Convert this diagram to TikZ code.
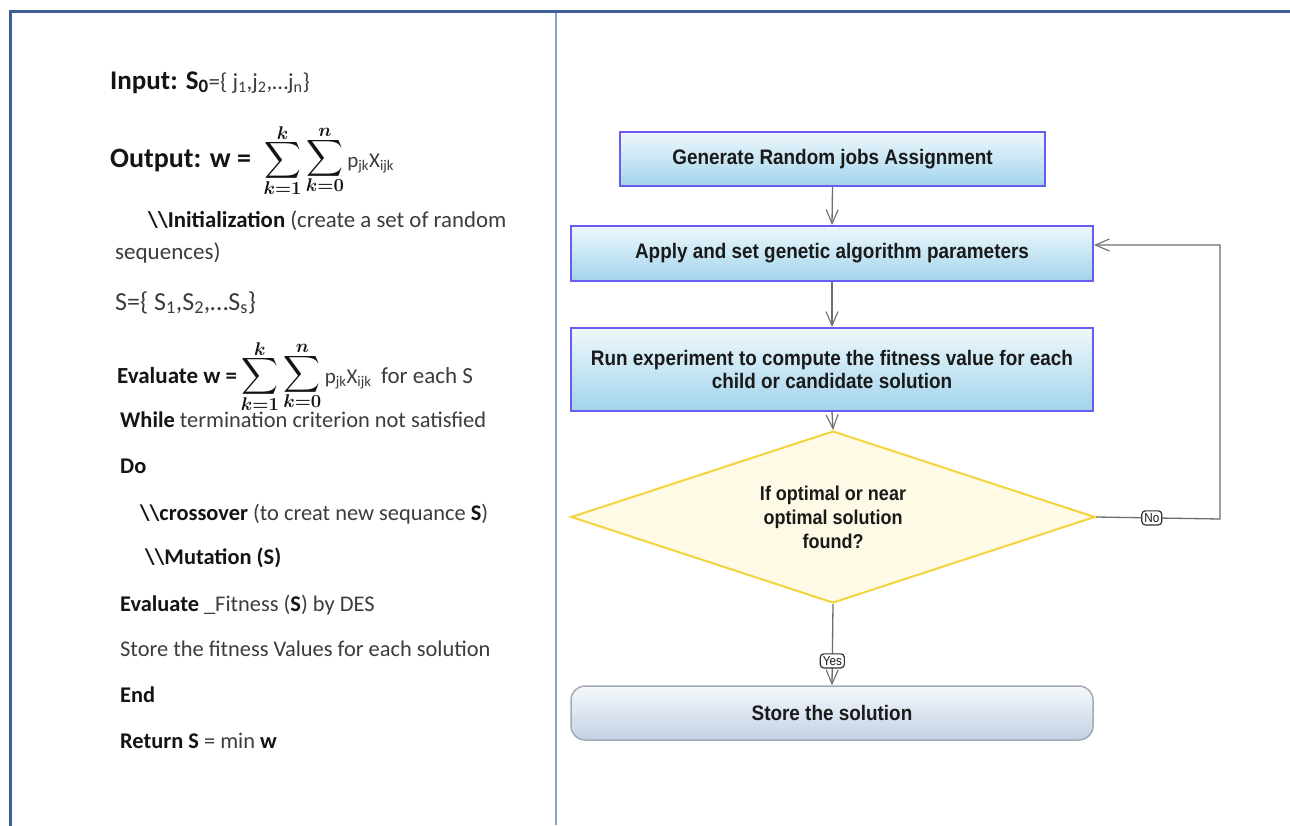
\documentclass[tikz,border=0pt]{standalone}
\usepackage{amsmath,amssymb,bm}
\usepackage{graphicx}
\usepackage{fontspec}
\setmainfont{Carlito}
\newfontfamily\flowfont[FakeStretch=0.9]{Liberation Sans}
\usetikzlibrary{shapes.geometric,arrows.meta}
\definecolor{framedark}{HTML}{3F5E96}
\definecolor{framelight}{HTML}{86A3D6}
\definecolor{txtgrey}{HTML}{3C3C3C}
\definecolor{txtbold}{HTML}{141414}
\definecolor{boxborder}{HTML}{6A5CF0}
\definecolor{boxtop}{HTML}{EEF8FC}
\definecolor{boxbot}{HTML}{A2D4EC}
\definecolor{diafill}{HTML}{FFFAE6}
\definecolor{diaborder}{HTML}{F3D43C}
\definecolor{endtop}{HTML}{F5F8FB}
\definecolor{endbot}{HTML}{C3D2E5}
\definecolor{endborder}{HTML}{A3ACB6}
\definecolor{arrgrey}{HTML}{6E6E6E}
\definecolor{flowtext}{HTML}{1A1A1A}
\newcommand{\sz}[1]{\fontsize{#1}{#1}\selectfont}
\newcommand{\onesum}[2]{\vcenter{\offinterlineskip\halign{\hfil##\hfil\cr$\scriptstyle\bm{#2}$\cr\noalign{\kern0.5pt}$\displaystyle\sum$\cr\noalign{\kern0.5pt}$\scriptstyle\bm{#1}$\cr}}}
\newcommand{\mysums}{\scalebox{1.28}{\color{txtbold}\sz{20}$\onesum{k=1}{k}\,\onesum{k=0}{n}$}}
\newcommand{\pxterm}{\sz{21}\,p\textsubscript{jk}X\textsubscript{ijk}}
\tikzset{
  pl/.style={anchor=base west, inner sep=0pt, text=txtgrey},
  procbox/.style={draw=boxborder, line width=2pt, top color=boxtop, bottom color=boxbot,
    font=\flowfont\bfseries\sz{21}, text=flowtext, align=center, inner sep=0pt},
  decbox/.style={diamond, aspect=3.05, draw=diaborder, line width=2pt, fill=diafill, inner sep=0pt,
    font=\flowfont\bfseries\sz{20}, text=flowtext, align=center},
  endbox/.style={draw=endborder, line width=1.5pt, rounded corners=14pt, top color=endtop,
    bottom color=endbot, font=\flowfont\bfseries\sz{21}, text=flowtext, inner sep=0pt},
  arr/.style={draw=arrgrey, line width=1.3pt, -{Straight Barb[length=14pt,width=12pt,line width=1.1pt]}},
  lbl/.style={draw=black!80, line width=1.2pt, fill=white, rounded corners=3.5pt, inner sep=2.5pt,
    font=\flowfont\sz{13}, text=flowtext}
}
\begin{document}
\begin{tikzpicture}[x=1pt,y=-1pt]
\useasboundingbox[fill=white] (0,0) rectangle (1290,825);
% frame
\draw[framelight, line width=1.5pt] (556,12) -- (556,825);
\draw[framedark, line width=3pt, line cap=rect] (10,825) -- (10,11) -- (1290,11);

% left text
\node[pl] (l1) at (110,89) {\sz{27}\textbf{\color{txtbold}Input: S\textsubscript{0}}\sz{23}=\{ j\textsubscript{1},j\textsubscript{2},…j\textsubscript{n}\}};
\node[pl] (l2) at (110,167) {\sz{28}\textbf{\color{txtbold}Output: w =}\ \ \mysums\pxterm};
\node[pl] (l3) at (148,227) {\sz{22.8}\textbf{\color{txtbold}\textbackslash\textbackslash Initialization} (create a set of random};
\node[pl] (l4) at (115,259) {\sz{23}sequences)};
\node[pl] (l5) at (115,310) {\sz{26}S=\{ S\textsubscript{1},S\textsubscript{2},…S\textsubscript{s}\}};
\node[pl] (l6) at (117,383) {\sz{23}\textbf{\color{txtbold}Evaluate w =}\,\mysums\pxterm\ \ \sz{23}for each S};
\node[pl] (l7) at (120,427) {\sz{22.4}\textbf{\color{txtbold}While} termination criterion not satisfied};
\node[pl] (l8) at (120,473) {\sz{22.4}\textbf{\color{txtbold}Do}};
\node[pl] (l9) at (140,520) {\sz{22.4}\textbf{\color{txtbold}\textbackslash\textbackslash crossover} (to creat new sequance \textbf{\color{txtbold}S})};
\node[pl] (l10) at (145,564) {\sz{22.4}\textbf{\color{txtbold}\textbackslash\textbackslash Mutation (S)}};
\node[pl] (l11) at (120,611) {\sz{22.4}\textbf{\color{txtbold}Evaluate} \_Fitness (\textbf{\color{txtbold}S}) by DES};
\node[pl] (l12) at (120,656) {\sz{22.4}Store the fitness Values for each solution};
\node[pl] (l13) at (120,702) {\sz{22.4}\textbf{\color{txtbold}End}};
\node[pl] (l14) at (120,748) {\sz{22.4}\textbf{\color{txtbold}Return S} = min \textbf{\color{txtbold}w}};

% flowchart
\node[procbox, minimum width=425pt, minimum height=54pt] (b1) at (832.5,159) {Generate Random jobs Assignment};
\node[procbox, minimum width=522pt, minimum height=55pt] (b2) at (832,253.5) {Apply and set genetic algorithm parameters};
\node[procbox, minimum width=522pt, minimum height=83pt] (b3) at (832,369.5) {Run experiment to compute the fitness value for each\\[2pt]child or candidate solution};
\node[decbox, minimum width=524pt, minimum height=172pt] (d1) at (833,517) {If optimal or near\\[4pt]optimal solution\\[4pt]found?};
\node[endbox, minimum width=522pt, minimum height=54pt] (b4) at (832,713) {Store the solution};
\coordinate (c1) at (1220,519);
\coordinate (c2) at (1220,245);

\draw[arr] (b1.south) -- (b2.north);
\draw[arr] (b2.south) -- (b3.north);
\draw[arr] (b3.south) -- (d1.north);
\draw[arr] (d1.south) -- node[lbl, pos=0.7] (yes) {Yes} (b4.north);
\draw[arr] (d1.east) -- node[lbl, pos=0.45] (no) {No} (c1) -- (c2) -- (b2.east |- c2);
\end{tikzpicture}
\end{document}
